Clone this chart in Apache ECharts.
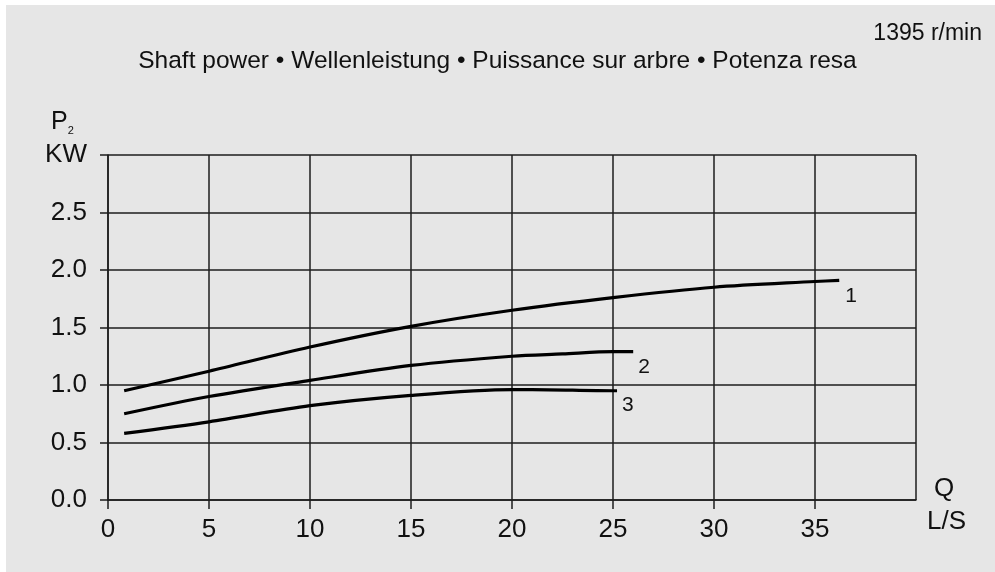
<!DOCTYPE html>
<html>
<head>
<meta charset="utf-8">
<script src="https://cdn.jsdelivr.net/npm/echarts@6/dist/echarts.min.js"></script>
<style>
  html, body { margin: 0; padding: 0; background: #ffffff; }
  #panel { position: absolute; left: 6px; top: 5px; width: 989px; height: 567px; background: #e6e6e6; }
  #chart { position: absolute; left: 0; top: 0; width: 995px; height: 572px; }
</style>
</head>
<body>
<div id="panel"></div>
<div id="chart"></div>
<script>
// Flow Q (L/S) and shaft power P2 (kW) for the three impeller curves
const curve1Q = [0.8, 5, 10, 15, 20, 25, 30, 35, 36.2];
const curve1P = [0.95, 1.12, 1.33, 1.51, 1.65, 1.76, 1.85, 1.90, 1.91];
const curve2Q = [0.8, 5, 10, 15, 20, 22.5, 25, 26];
const curve2P = [0.75, 0.90, 1.04, 1.17, 1.25, 1.27, 1.29, 1.29];
const curve3Q = [0.8, 5, 10, 15, 20, 21, 25, 25.2];
const curve3P = [0.58, 0.68, 0.82, 0.91, 0.96, 0.96, 0.95, 0.95];
const curveNames = ['1', '2', '3'];

const xTicks = [0, 5, 10, 15, 20, 25, 30, 35];
const yTicks = [0.0, 0.5, 1.0, 1.5, 2.0, 2.5];

const FONT = 'Liberation Sans, Arial, sans-serif';
const INK = '#111111';
const RULE = '#1c1c1c';

function pairs(qs, ps) { return qs.map((q, i) => [q, ps[i]]); }

const chart = echarts.init(document.getElementById('chart'), null, { renderer: 'canvas' });

function curveSeries(name, data, offset) {
  return {
    type: 'line',
    name: name,
    data: data,
    smooth: 0.3,
    showSymbol: false,
    symbol: 'none',
    lineStyle: { color: '#000', width: 3.2 },
    endLabel: {
      show: true,
      formatter: name,
      color: INK,
      fontFamily: FONT,
      fontSize: 21,
      offset: offset
    },
    z: 5,
    silent: true
  };
}

// Short outward ticks under the Q axis, one per labelled value
const qTickSeries = {
  type: 'custom',
  data: xTicks.map(v => [v, 0]),
  clip: false,
  silent: true,
  zlevel: 1,
  z: 10,
  renderItem: (params, api) => {
    const p = api.coord([api.value(0), 0]);
    return {
      type: 'rect',
      shape: { x: Math.round(p[0]) - 0.75, y: p[1], width: 1.5, height: 9 },
      style: { fill: RULE }
    };
  }
};

chart.setOption({
  backgroundColor: 'transparent',
  animation: false,
  grid: { left: 108, right: 79, top: 155, bottom: 72, containLabel: false },
  xAxis: {
    type: 'value',
    min: 0, max: 40, interval: 5,
    axisLine: { show: true, onZero: false, lineStyle: { color: RULE, width: 1.5 } },
    axisTick: { show: false },
    splitLine: { show: true, lineStyle: { color: RULE, width: 1.5 } },
    axisLabel: {
      color: INK, fontFamily: FONT, fontSize: 26, margin: 17,
      formatter: v => (xTicks.indexOf(v) >= 0 ? String(v) : '')
    }
  },
  yAxis: {
    type: 'value',
    min: 0, max: 3, interval: 0.5,
    axisLine: { show: true, onZero: false, lineStyle: { color: RULE, width: 1.5 } },
    axisTick: { show: true, inside: false, length: 8, lineStyle: { color: RULE, width: 1.5 } },
    splitLine: { show: true, lineStyle: { color: RULE, width: 1.5 } },
    axisLabel: {
      color: INK, fontFamily: FONT, fontSize: 26, margin: 21,
      formatter: v => {
        const hit = yTicks.find(t => Math.abs(t - v) < 1e-9);
        if (hit !== undefined) return hit.toFixed(1);
        return 'KW';
      }
    }
  },
  graphic: [
    {
      type: 'text', right: 13, top: 22,
      style: { text: '1395 r/min', fill: INK, font: '23px ' + FONT }
    },
    {
      type: 'text', left: 'center', top: 49,
      style: { text: 'Shaft power \u2022 Wellenleistung \u2022 Puissance sur arbre \u2022 Potenza resa', fill: INK, font: '24.5px ' + FONT }
    },
    {
      type: 'text', left: 51, top: 110,
      style: {
        text: '{p|P}{s|2}',
        fill: INK,
        rich: {
          p: { fontFamily: FONT, fontSize: 25, fill: INK },
          s: { fontFamily: FONT, fontSize: 11, fill: INK, padding: [17, 0, 0, 0] }
        }
      }
    },
    {
      type: 'text', left: 934, top: 476,
      style: { text: 'Q', fill: INK, font: '26px ' + FONT }
    },
    {
      type: 'text', left: 927, top: 509,
      style: { text: 'L/S', fill: INK, font: '26px ' + FONT }
    }
  ],
  series: [
    curveSeries(curveNames[0], pairs(curve1Q, curve1P), [-2, 16]),
    curveSeries(curveNames[1], pairs(curve2Q, curve2P), [-3, 16]),
    curveSeries(curveNames[2], pairs(curve3Q, curve3P), [-3, 14]),
    qTickSeries
  ]
});
</script>
</body>
</html>
